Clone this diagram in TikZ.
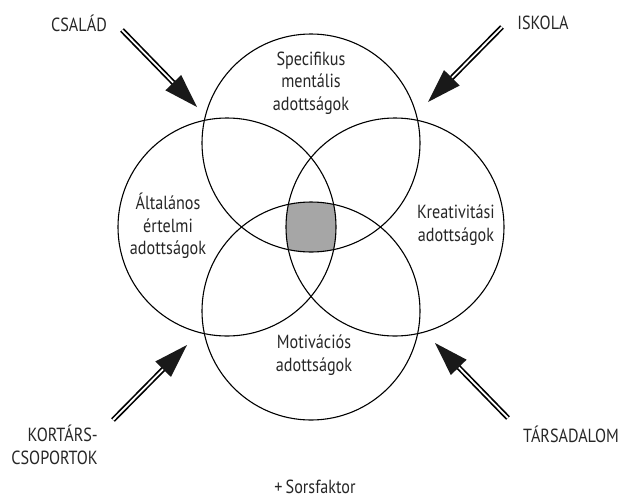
\documentclass[tikz,border=0pt]{standalone}
\usepackage{fontspec}
\setmainfont{PT Sans}[FakeStretch=0.85]
\usetikzlibrary{calc}
\definecolor{grayfill}{HTML}{A6A6A6}
\begin{document}
\begin{tikzpicture}[x=1pt,y=-1pt,
  ring/.style={line width=1.1pt},
  lbl/.style={font=\fontsize{19}{22.5}\selectfont, align=center, inner sep=0pt, text=black!85},
  shaft/.style={double=white, double distance=1.8pt, line width=1.7pt},
  arrowhead/.style={fill=black!90}]
\useasboundingbox (0,0) rectangle (624,499);
% circle centres
\coordinate (ctop) at (311,143);
\coordinate (cleft) at (227,227);
\coordinate (cright) at (395,227);
\coordinate (cbot) at (311,311);
\def\R{109}
% common intersection
\begin{scope}
  \clip (ctop) circle (\R);
  \clip (cleft) circle (\R);
  \clip (cright) circle (\R);
  \fill[grayfill] (cbot) circle (\R);
\end{scope}
\foreach \c in {ctop,cleft,cright,cbot}{
  \draw[ring] (\c) circle (\R);
}
% circle labels
\node[lbl] (spec) at (311,83) {Specifikus\\mentális\\adottságok};
\node[lbl] (alt) at (168,226) {Általános\\értelmi\\adottságok};
\node[lbl] (kreat) at (456,225) {Kreativitási\\adottságok};
\node[lbl] (motiv) at (314,355) {Motivációs\\adottságok};
% outer labels
\node[lbl] (csalad) at (79,23) {CSALÁD};
\node[lbl] (iskola) at (543,23) {ISKOLA};
\node[lbl, align=right, anchor=east] (kortars) at (98,445) {KORTÁRS-\\CSOPORTOK};
\node[lbl] (tars) at (571,434) {TÁRSADALOM};
\node[lbl, anchor=base] (sors) at (315,493) {+\,Sorsfaktor};
% arrows
\coordinate (t1) at (122,30);  \coordinate (p1) at (197,107);
\coordinate (t2) at (502,27);  \coordinate (p2) at (428,102);
\coordinate (t3) at (113,420); \coordinate (p3) at (187,345);
\coordinate (t4) at (508,418); \coordinate (p4) at (435,343);
\foreach \i in {1,2,3,4}{
  \coordinate (b\i) at ($(p\i)!34pt!(t\i)$);
  \coordinate (s\i) at ($(p\i)!28pt!(t\i)$);
  \draw[shaft] (t\i) -- (s\i);
  \fill[arrowhead] (p\i) -- ($(b\i)!11pt!90:(p\i)$) -- ($(b\i)!11pt!-90:(p\i)$) -- cycle;
}
\end{tikzpicture}
\end{document}
